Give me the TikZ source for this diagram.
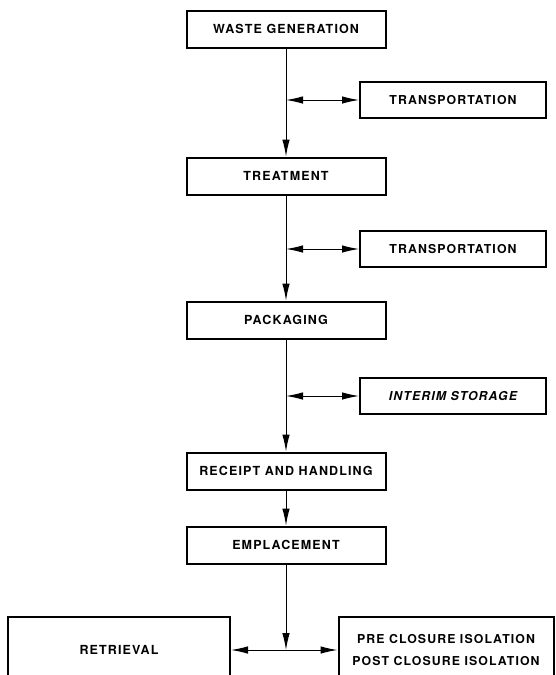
\documentclass[tikz,border=0pt]{standalone}
\usepackage{fontspec}
\setmainfont{TeX Gyre Heros}[LetterSpace=9]
\usetikzlibrary{arrows.meta}

\tikzset{
    stage/.style={draw, line width=2pt, minimum width=199pt, minimum height=37pt, font=\bfseries\fontsize{12.5}{14}\selectfont},
    sidebox/.style={draw, line width=2pt, minimum width=186pt, minimum height=36pt, font=\bfseries\fontsize{12.3}{14}\selectfont},
    flow/.style={line width=1pt, -{Latex[length=17pt,width=7.5pt]}},
    both/.style={line width=1pt, {Latex[length=17pt,width=7.5pt]}-{Latex[length=17pt,width=7.5pt]}}
}

\begin{document}
\begin{tikzpicture}[x=1pt, y=-1pt]
    \useasboundingbox (0,0) rectangle (556,675);

    % Main chain
    \node[stage] (wastegen) at (286, 29) {WASTE GENERATION};
    \node[stage] (treat) at (286, 176) {TREATMENT};
    \node[stage] (pack) at (286, 320) {PACKAGING};
    \node[stage] (receipt) at (286, 471) {RECEIPT AND HANDLING};
    \node[stage] (emplace) at (286, 545) {EMPLACEMENT};

    % Side boxes
    \node[sidebox] (transpa) at (453, 100) {TRANSPORTATION};
    \node[sidebox] (transpb) at (453, 249) {TRANSPORTATION};
    \node[sidebox, font=\bfseries\itshape\fontsize{12.3}{14}\selectfont] (interim) at (453, 396) {INTERIM STORAGE};

    % End boxes (cut off at the bottom)
    \node[draw, line width=2pt, minimum width=222pt, minimum height=66pt,
          font=\bfseries\fontsize{12.5}{14}\selectfont] (retr) at (119, 650) {RETRIEVAL};
    \node[draw, line width=2pt, minimum width=215pt, minimum height=66pt, align=center,
          font=\bfseries\fontsize{12.3}{22}\selectfont] (isol) at (446, 650)
          {PRE CLOSURE ISOLATION\\POST CLOSURE ISOLATION};

    % Junctions on the trunk
    \coordinate (ja) at (wastegen.south |- transpa.west);
    \coordinate (jb) at (treat.south |- transpb.west);
    \coordinate (jc) at (pack.south |- interim.west);
    \coordinate (jd) at (emplace.south |- retr.east);

    % Trunk
    \draw[flow] (wastegen) -- (treat);
    \draw[flow] (treat) -- (pack);
    \draw[flow] (pack) -- (receipt);
    \draw[flow] (receipt) -- (emplace);
    \draw[flow] (emplace) -- (jd);

    % Side links
    \draw[both] (ja) -- (transpa);
    \draw[both] (jb) -- (transpb);
    \draw[both] (jc) -- (interim);
    \draw[flow] (jd) -- (retr);
    \draw[flow] (jd) -- (isol);

\end{tikzpicture}
\end{document}
